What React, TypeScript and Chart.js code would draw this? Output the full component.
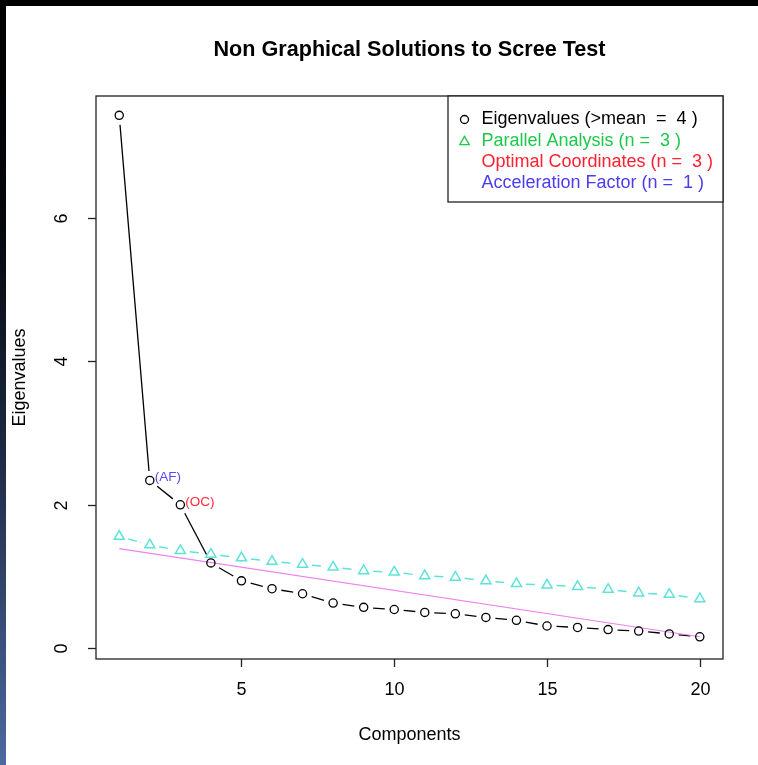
import React, { useEffect, useRef } from "react";
import { Chart, registerables } from "chart.js";

Chart.register(...registerables);

// ---- data ----
const components = [1, 2, 3, 4, 5, 6, 7, 8, 9, 10, 11, 12, 13, 14, 15, 16, 17, 18, 19, 20];
const eigenvalues = [7.43, 2.34, 2.0, 1.19, 0.94, 0.83, 0.76, 0.63, 0.57, 0.54, 0.5, 0.48, 0.43, 0.39, 0.31, 0.29, 0.26, 0.24, 0.2, 0.16];
const parallelAnalysis = [1.56, 1.44, 1.36, 1.31, 1.26, 1.21, 1.17, 1.13, 1.08, 1.06, 1.01, 0.99, 0.94, 0.9, 0.88, 0.86, 0.82, 0.77, 0.75, 0.69];
const ocLineX = [1, 20];
const ocLineY = [1.39, 0.16];
const xTicks = [5, 10, 15, 20];
const yTicks = [0, 2, 4, 6];
const xRange = [0.24, 20.76];
const yRange = [-0.15, 7.7];
const legendLabels = [
  "Eigenvalues (>mean  =  4 )",
  "Parallel Analysis (n =  3 )",
  "Optimal Coordinates (n =  3 )",
  "Acceleration Factor (n =  1 )",
];
const annotations = [
  { component: 2, text: "(AF)", color: "#5a48f0" },
  { component: 3, text: "(OC)", color: "#ff2a3a" },
];
const titleText = "Non Graphical Solutions to Scree Test";
const xTitle = "Components";
const yTitle = "Eigenvalues";

const FONT = "'Liberation Sans', Arial, Helvetica, sans-serif";
const CYAN = "#5fe3d9";
const LEGEND_COLORS = ["#000000", "#1ec84a", "#ff2030", "#4a3cf0"];

const framePlugin = {
  id: "frame",
  beforeDraw(chart: any) {
    const { ctx, width, height } = chart;
    ctx.save();
    ctx.fillStyle = "#ffffff";
    ctx.fillRect(0, 0, width, height);
    const g = ctx.createLinearGradient(0, 0, 0, height);
    g.addColorStop(0, "#000000");
    g.addColorStop(0.3, "#05070d");
    g.addColorStop(0.6, "#1e2b45");
    g.addColorStop(1, "#4d68a0");
    ctx.fillStyle = g;
    ctx.fillRect(0, 0, 6, height);
    ctx.fillStyle = "#000000";
    ctx.fillRect(0, 0, width, 6);
    ctx.restore();
  },
};

const gapLinePlugin = {
  id: "gapLines",
  beforeDatasetsDraw(chart: any) {
    const { ctx } = chart;
    chart.data.datasets.forEach((ds: any, di: number) => {
      if (!ds.gapLine) return;
      const meta = chart.getDatasetMeta(di);
      const pts = meta.data;
      ctx.save();
      ctx.strokeStyle = ds.gapLine.color;
      ctx.lineWidth = ds.gapLine.width;
      ctx.setLineDash(ds.gapLine.dash || []);
      const gap = ds.gapLine.gap;
      for (let i = 0; i < pts.length - 1; i++) {
        const a = pts[i], b = pts[i + 1];
        const dx = b.x - a.x, dy = b.y - a.y;
        const len = Math.hypot(dx, dy);
        if (len <= 2 * gap) continue;
        const ux = dx / len, uy = dy / len;
        ctx.beginPath();
        ctx.moveTo(a.x + ux * gap, a.y + uy * gap);
        ctx.lineTo(b.x - ux * gap, b.y - uy * gap);
        ctx.stroke();
      }
      ctx.restore();
    });
  },
};

const decorPlugin = {
  id: "decor",
  afterDraw(chart: any) {
    const { ctx, chartArea: ca } = chart;
    const xs = chart.scales.x;
    const ys = chart.scales.y;
    ctx.save();
    // box
    ctx.strokeStyle = "#222222";
    ctx.lineWidth = 1.3;
    ctx.strokeRect(ca.left, ca.top, ca.right - ca.left, ca.bottom - ca.top);
    // ticks
    ctx.fillStyle = "#000000";
    ctx.font = `18px ${FONT}`;
    ctx.textAlign = "center";
    ctx.textBaseline = "middle";
    xTicks.forEach((t) => {
      const px = Math.round(xs.getPixelForValue(t)) + 0.5;
      ctx.beginPath();
      ctx.moveTo(px, ca.bottom);
      ctx.lineTo(px, ca.bottom + 8);
      ctx.stroke();
      ctx.fillText(String(t), px, 690);
    });
    yTicks.forEach((t) => {
      const py = Math.round(ys.getPixelForValue(t)) + 0.5;
      ctx.beginPath();
      ctx.moveTo(ca.left, py);
      ctx.lineTo(ca.left - 8, py);
      ctx.stroke();
      ctx.save();
      ctx.translate(62, py);
      ctx.rotate(-Math.PI / 2);
      ctx.fillText(String(t), 0, 0);
      ctx.restore();
    });
    // axis titles
    ctx.fillText(xTitle, (ca.left + ca.right) / 2, 735);
    ctx.save();
    ctx.translate(20, (ca.top + ca.bottom) / 2);
    ctx.rotate(-Math.PI / 2);
    ctx.fillText(yTitle, 0, 0);
    ctx.restore();
    // title
    ctx.font = `bold 21.6px ${FONT}`;
    ctx.fillText(titleText, (ca.left + ca.right) / 2, 50);

    // annotations
    ctx.font = `13.5px ${FONT}`;
    ctx.textAlign = "left";
    const eigenIdx = chart.data.datasets.findIndex((d: any) => d.label === "Eigen");
    const metaE = chart.getDatasetMeta(eigenIdx);
    annotations.forEach((a) => {
      const idx = components.indexOf(a.component);
      const el = metaE.data[idx];
      if (!el) return;
      ctx.fillStyle = a.color;
      ctx.fillText(a.text, el.x + 5, el.y - 3);
    });

    // legend
    const lx = 448, ly = 96, lw = ca.right - 448, lh = 106;
    ctx.fillStyle = "#ffffff";
    ctx.fillRect(lx, ly, lw, lh);
    ctx.strokeStyle = "#222222";
    ctx.lineWidth = 1.3;
    ctx.strokeRect(lx, ly, lw, lh);
    ctx.font = `18px ${FONT}`;
    ctx.textBaseline = "middle";
    const rowY = [119.5, 140.8, 162, 183.3];
    legendLabels.forEach((lab, i) => {
      ctx.fillStyle = LEGEND_COLORS[i];
      ctx.fillText(lab, 481.5, rowY[i]);
    });
    // legend symbols
    ctx.lineWidth = 1.3;
    ctx.strokeStyle = LEGEND_COLORS[0];
    ctx.beginPath();
    ctx.arc(464.5, rowY[0], 4, 0, Math.PI * 2);
    ctx.stroke();
    const r = 5.5;
    ctx.strokeStyle = LEGEND_COLORS[1];
    ctx.beginPath();
    ctx.moveTo(464.5, rowY[1] + 1 - r);
    ctx.lineTo(464.5 + 0.866 * r, rowY[1] + 1 + 0.5 * r);
    ctx.lineTo(464.5 - 0.866 * r, rowY[1] + 1 + 0.5 * r);
    ctx.closePath();
    ctx.stroke();
    ctx.restore();
  },
};

export default function App() {
  const ref = useRef<HTMLCanvasElement | null>(null);
  useEffect(() => {
    if (!ref.current) return;
    const chart = new Chart(ref.current, {
      type: "scatter",
      data: {
        datasets: [
          {
            label: "OC",
            data: ocLineX.map((x, i) => ({ x, y: ocLineY[i] })),
            showLine: true,
            borderColor: "#ee82ee",
            borderWidth: 1.2,
            pointRadius: 0,
            order: 3,
          } as any,
          {
            label: "Parallel",
            data: components.map((c, i) => ({ x: c, y: parallelAnalysis[i] })),
            showLine: false,
            pointStyle: "triangle",
            pointRadius: 5.8,
            pointBorderColor: CYAN,
            pointBackgroundColor: "rgba(0,0,0,0)",
            pointBorderWidth: 1.5,
            gapLine: { color: CYAN, width: 1.5, gap: 9.5, dash: [9, 3] },
            order: 2,
          } as any,
          {
            label: "Eigen",
            data: components.map((c, i) => ({ x: c, y: eigenvalues[i] })),
            showLine: false,
            pointStyle: "circle",
            pointRadius: 4.1,
            pointBorderColor: "#000000",
            pointBackgroundColor: "rgba(0,0,0,0)",
            pointBorderWidth: 1.3,
            gapLine: { color: "#000000", width: 1.3, gap: 9.5 },
            order: 1,
          } as any,
        ],
      },
      options: {
        animation: false,
        responsive: false,
        devicePixelRatio: 1,
        layout: { padding: { left: 96, top: 96, right: 35, bottom: 106 } },
        scales: {
          x: { type: "linear", min: xRange[0], max: xRange[1], display: false },
          y: { type: "linear", min: yRange[0], max: yRange[1], display: false },
        },
        plugins: {
          legend: { display: false },
          title: { display: false },
          tooltip: { enabled: false },
        },
      },
      plugins: [framePlugin, gapLinePlugin, decorPlugin],
    });
    return () => chart.destroy();
  }, []);

  return (
    <div style={{ position: "fixed", left: 0, top: 0, width: 758, height: 765, background: "#fff" }}>
      <canvas ref={ref} width={758} height={765} style={{ width: 758, height: 765, display: "block" }} />
    </div>
  );
}
